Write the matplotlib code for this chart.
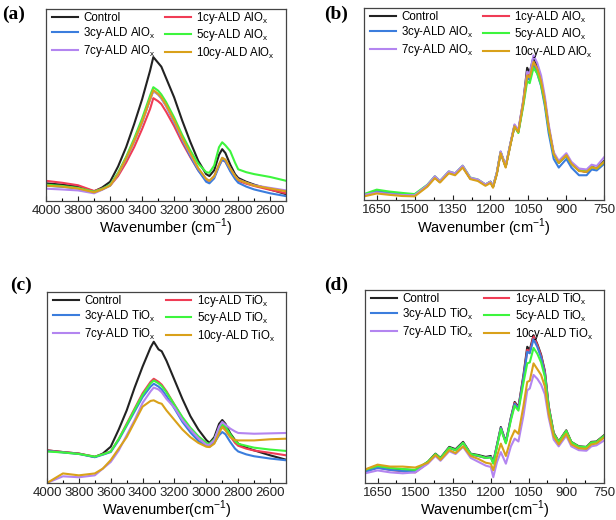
import matplotlib
matplotlib.use("Agg")
import matplotlib.pyplot as plt
from matplotlib.ticker import MultipleLocator

plt.rcParams['font.family'] = ['Liberation Sans', 'DejaVu Sans']

# wavenumber grids (cm-1)
wn_oh = [4000, 3900, 3800, 3700, 3650, 3600, 3550, 3500, 3450, 3400, 3350, 3330, 3300, 3280,
         3250, 3200, 3150, 3100, 3050, 3000, 2980, 2950, 2920, 2900, 2880, 2850, 2820, 2800,
         2750, 2700, 2600, 2500]
wn_fp = [1700, 1650, 1600, 1550, 1500, 1450, 1420, 1400, 1365, 1340, 1310, 1280, 1250, 1220,
         1200, 1190, 1175, 1160, 1140, 1120, 1105, 1090, 1070, 1055, 1045, 1030, 1015, 1000,
         985, 970, 950, 930, 900, 880, 850, 820, 800, 780, 750]

names = ['Control', '1cy', '3cy', '5cy', '7cy', '10cy']
colors = ['#222222', '#f03c55', '#3b7ddd', '#3df53d', '#b385f0', '#d9a11a']

# (a) AlOx, 4000-2500 region (absorbance, arb. units)
a_control = [.092, .085, .075, .050, .070, .100, .180, .280, .400, .530, .680, .750, .720, .700, .640, .540,
             .420, .310, .210, .140, .130, .160, .240, .270, .250, .190, .140, .120, .100, .085, .060, .035]
a_1cy = [.105, .095, .082, .052, .065, .080, .130, .200, .280, .375, .480, .536, .520, .505, .465, .390,
         .305, .230, .160, .110, .100, .125, .185, .215, .205, .160, .125, .105, .090, .078, .058, .040]
a_3cy = [.080, .074, .065, .045, .060, .080, .140, .220, .310, .410, .530, .575, .555, .535, .495, .410,
         .320, .235, .160, .100, .092, .118, .180, .215, .205, .155, .115, .095, .075, .060, .040, .025]
a_5cy = [.085, .078, .068, .048, .063, .085, .148, .230, .325, .430, .550, .593, .575, .555, .515, .435,
         .345, .265, .195, .150, .147, .185, .280, .306, .290, .260, .200, .165, .150, .140, .125, .105]
a_7cy = [.064, .060, .055, .040, .058, .080, .140, .220, .310, .410, .530, .572, .555, .535, .495, .415,
         .325, .245, .170, .115, .105, .128, .190, .225, .215, .170, .130, .112, .095, .082, .068, .055]
a_10cy = [.080, .075, .065, .045, .060, .080, .140, .222, .312, .412, .532, .578, .558, .540, .500, .420,
          .330, .250, .172, .115, .105, .130, .190, .225, .215, .170, .130, .110, .095, .080, .065, .050]

# (b) AlOx, fingerprint region
b_control = [.026, .045, .035, .028, .026, .075, .120, .095, .145, .135, .175, .113, .105, .080, .096, .070,
             .140, .250, .175, .300, .390, .360, .520, .690, .665, .745, .700, .630, .520, .380, .240, .195,
             .235, .190, .155, .148, .175, .165, .205]
b_1cy = [.026, .045, .035, .028, .026, .075, .120, .095, .145, .135, .175, .113, .105, .080, .096, .070,
         .140, .250, .175, .300, .385, .355, .510, .660, .640, .720, .680, .615, .510, .375, .240, .195,
         .235, .190, .155, .148, .172, .165, .200]
b_3cy = [.030, .045, .038, .030, .028, .078, .122, .097, .147, .137, .177, .115, .105, .080, .095, .070,
         .140, .250, .175, .300, .385, .355, .505, .640, .625, .700, .660, .595, .490, .350, .215, .170,
         .215, .170, .130, .130, .160, .155, .190]
b_5cy = [.032, .055, .045, .038, .032, .080, .125, .100, .150, .140, .180, .118, .108, .082, .097, .072,
         .142, .252, .177, .300, .385, .350, .495, .620, .610, .690, .660, .600, .505, .375, .240, .195,
         .235, .190, .155, .150, .172, .165, .200]
b_7cy = [.028, .040, .032, .027, .026, .078, .125, .100, .150, .140, .180, .117, .108, .082, .097, .072,
         .145, .255, .180, .305, .395, .365, .525, .670, .660, .755, .715, .650, .540, .395, .250, .205,
         .245, .200, .165, .160, .185, .178, .225]
b_10cy = [.020, .035, .028, .022, .020, .070, .115, .092, .140, .130, .170, .110, .100, .075, .090, .065,
          .135, .245, .170, .295, .385, .355, .510, .650, .640, .720, .685, .620, .515, .380, .240, .195,
          .235, .190, .152, .148, .172, .165, .200]

# (c) TiOx, 4000-2500 region
c_control = [.171, .162, .154, .136, .154, .190, .280, .380, .500, .610, .710, .740, .700, .690, .640, .540,
             .440, .350, .280, .225, .210, .240, .310, .330, .310, .260, .225, .206, .185, .171, .145, .122]
c_1cy = [.171, .162, .154, .138, .150, .165, .230, .310, .390, .470, .530, .546, .530, .515, .480, .410,
         .340, .280, .235, .205, .200, .225, .280, .300, .285, .245, .210, .195, .180, .170, .158, .145]
c_3cy = [.168, .160, .152, .135, .148, .162, .225, .300, .375, .450, .505, .520, .505, .490, .455, .390,
         .320, .265, .220, .195, .190, .210, .250, .267, .255, .215, .180, .165, .150, .140, .128, .119]
c_5cy = [.165, .160, .152, .138, .150, .165, .230, .305, .385, .462, .522, .537, .522, .508, .475, .410,
         .345, .290, .245, .210, .205, .230, .285, .307, .295, .255, .220, .205, .195, .185, .175, .168]
c_7cy = [.000, .035, .030, .040, .075, .110, .170, .250, .330, .420, .480, .500, .490, .475, .440, .395,
         .330, .280, .235, .200, .200, .225, .295, .320, .305, .285, .270, .262, .260, .258, .260, .262]
c_10cy = [.000, .050, .040, .050, .075, .120, .180, .240, .320, .400, .430, .433, .420, .415, .380, .330,
          .280, .240, .210, .190, .188, .206, .260, .293, .275, .240, .225, .223, .223, .223, .229, .232]

# (d) TiOx, fingerprint region
d_control = [.066, .090, .075, .070, .066, .110, .152, .130, .187, .175, .213, .152, .145, .135, .140, .109,
             .200, .290, .213, .340, .420, .394, .560, .706, .690, .766, .720, .665, .580, .400, .260, .215,
             .273, .213, .190, .187, .213, .215, .247]
d_1cy = [.060, .080, .068, .060, .055, .105, .148, .126, .182, .170, .208, .148, .140, .130, .135, .105,
         .195, .285, .210, .335, .415, .390, .550, .690, .680, .760, .715, .660, .575, .398, .258, .213,
         .270, .210, .187, .185, .210, .212, .244]
d_3cy = [.058, .078, .068, .062, .060, .105, .148, .126, .182, .170, .208, .148, .140, .130, .135, .105,
         .195, .285, .210, .335, .410, .385, .545, .680, .672, .745, .705, .650, .565, .390, .250, .205,
         .262, .205, .180, .178, .205, .207, .240]
d_5cy = [.068, .088, .078, .072, .068, .110, .150, .128, .183, .170, .208, .150, .142, .130, .132, .100,
         .190, .280, .205, .325, .400, .375, .520, .620, .625, .700, .670, .625, .550, .390, .255, .213,
         .270, .212, .188, .186, .210, .212, .244]
d_7cy = [.050, .065, .055, .050, .055, .100, .140, .115, .165, .150, .187, .130, .110, .090, .083, .030,
         .110, .160, .100, .190, .230, .215, .350, .480, .490, .560, .540, .510, .460, .340, .225, .190,
         .245, .190, .170, .167, .190, .195, .220]
d_10cy = [.070, .095, .085, .085, .080, .105, .145, .120, .170, .155, .190, .140, .125, .105, .100, .066,
          .140, .204, .140, .230, .273, .255, .400, .524, .530, .620, .590, .560, .500, .360, .240, .200,
          .255, .200, .180, .177, .200, .205, .235]

panels = [
    ('(a)', wn_oh, [a_control, a_1cy, a_3cy, a_5cy, a_7cy, a_10cy], 'AlO', 'Wavenumber (cm$^{\\mathregular{-1}}$)'),
    ('(b)', wn_fp, [b_control, b_1cy, b_3cy, b_5cy, b_7cy, b_10cy], 'AlO', 'Wavenumber (cm$^{\\mathregular{-1}}$)'),
    ('(c)', wn_oh, [c_control, c_1cy, c_3cy, c_5cy, c_7cy, c_10cy], 'TiO', 'Wavenumber(cm$^{\\mathregular{-1}}$)'),
    ('(d)', wn_fp, [d_control, d_1cy, d_3cy, d_5cy, d_7cy, d_10cy], 'TiO', 'Wavenumber(cm$^{\\mathregular{-1}}$)'),
]

rects = [(0.0747, 0.6135, 0.390, 0.369), (0.591, 0.615, 0.390, 0.369),
         (0.0763, 0.0712, 0.388, 0.367), (0.5925, 0.0712, 0.388, 0.371)]
tag_pos = [(0.003, 0.972), (0.526, 0.972), (0.016, 0.452), (0.526, 0.452)]

fig = plt.figure(figsize=(6.16, 5.2), dpi=100)

for (tag, wn, series, oxide, xlabel), rect, tp in zip(panels, rects, tag_pos):
    ax = fig.add_axes(rect)
    lines = {}
    for name, col, ys in zip(names, colors, series):
        if name == 'Control':
            label = 'Control'
        else:
            label = name + '-ALD ' + oxide + '$_\\mathregular{x}$'
        lines[name], = ax.plot(wn, ys, color=col, lw=1.5, label=label)

    if wn[0] == 4000:
        ax.set_xlim(4000, 2500)
        ax.xaxis.set_major_locator(MultipleLocator(200))
        ax.xaxis.set_minor_locator(MultipleLocator(100))
    else:
        ax.set_xlim(1700, 750)
        ax.xaxis.set_major_locator(MultipleLocator(150))
        ax.xaxis.set_minor_locator(MultipleLocator(75))
    ax.set_ylim(0, 1)
    ax.set_yticks([])
    ax.tick_params(axis='x', which='major', direction='in', length=3.5, width=0.8,
                   labelsize=9.5, pad=3, colors='#222222')
    ax.tick_params(axis='x', which='minor', direction='in', length=2, width=0.8)
    for sp in ax.spines.values():
        sp.set_color('#444444')
        sp.set_linewidth(0.9)
    ax.set_xlabel(xlabel, fontsize=10.5, labelpad=0)

    # legend filled row by row
    order = ['Control', '3cy', '7cy', '1cy', '5cy', '10cy']
    ax.legend([lines[k] for k in order], [lines[k].get_label() for k in order],
              ncol=2, loc='upper center', bbox_to_anchor=(0.49, 1.02), frameon=False,
              fontsize=8.3, handlelength=2.2, labelspacing=0.12, columnspacing=0.8,
              handletextpad=0.5, borderaxespad=0.0)

    fig.text(tp[0], tp[1], tag, fontsize=14, fontweight='bold',
             family='Liberation Serif', va='center', ha='left')

fig.savefig('out.png', dpi=100)
